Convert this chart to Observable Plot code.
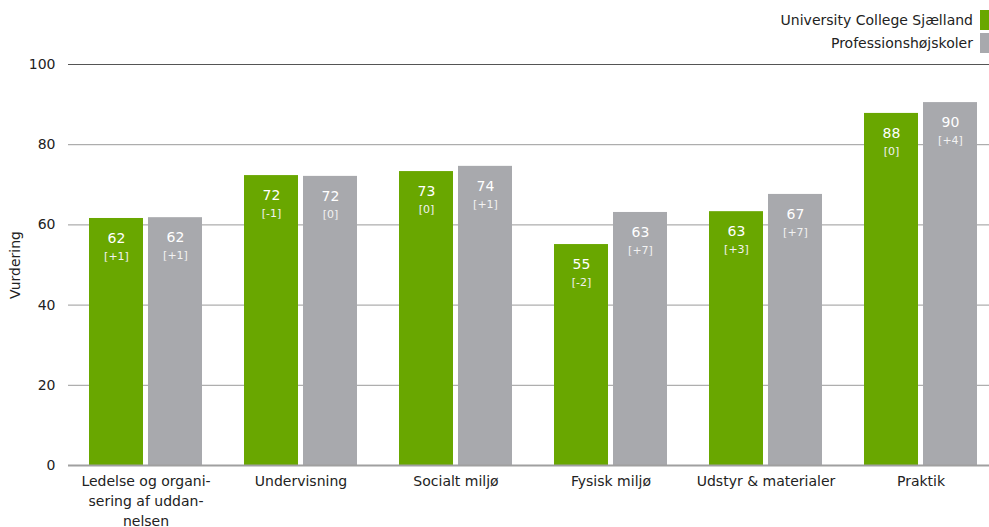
<!DOCTYPE html>
<html>
<head>
<meta charset="utf-8">
<script src="https://cdn.jsdelivr.net/npm/d3@7"></script>
<script src="https://cdn.jsdelivr.net/npm/@observablehq/plot@0.6"></script>
<style>
  html, body { margin: 0; padding: 0; background: #fff; }
  body { width: 989px; height: 527px; overflow: hidden; font-family: "DejaVu Sans", sans-serif; }
  #legend { position: relative; height: 56px; width: 989px; }
  .lg-row { position: absolute; right: 0; display: flex; align-items: center; font-size: 14px; color: #222; }
  .lg-sw { width: 9px; height: 20px; margin-left: 7px; }
  svg { display: block; }
</style>
</head>
<body>
<div id="legend"></div>
<div id="chart"></div>
<script>
const categories = ["Ledelse og organisering af uddannelsen", "Undervisning", "Socialt miljø", "Fysisk miljø", "Udstyr & materialer", "Praktik"];
const tickLabels = ["Ledelse og organi-\nsering af uddan-\nnelsen", "Undervisning", "Socialt miljø", "Fysisk miljø", "Udstyr & materialer", "Praktik"];
const series = ["University College Sjælland", "Professionshøjskoler"];
const seriesColors = ["#69a700", "#a8a9ad"];
const ucsValues = [61.6, 72.3, 73.3, 55.1, 63.3, 87.8];
const phValues = [61.8, 72.1, 74.6, 63.1, 67.6, 90.5];
const ucsLabels = ["62", "72", "73", "55", "63", "88"];
const phLabels = ["62", "72", "74", "63", "67", "90"];
const ucsChanges = ["[+1]", "[-1]", "[0]", "[-2]", "[+3]", "[0]"];
const phChanges = ["[+1]", "[0]", "[+1]", "[+7]", "[+7]", "[+4]"];
const yTicks = [0, 20, 40, 60, 80, 100];

const data = [];
categories.forEach((c, i) => {
  data.push({cat: c, series: series[0], value: ucsValues[i], label: ucsLabels[i], change: ucsChanges[i]});
  data.push({cat: c, series: series[1], value: phValues[i], label: phLabels[i], change: phChanges[i]});
});
const tickMap = new Map(categories.map((c, i) => [c, tickLabels[i]]));

// legend
const legend = document.getElementById("legend");
series.forEach((s, i) => {
  const row = document.createElement("div");
  row.className = "lg-row";
  row.style.top = (10 + i * 23) + "px";
  row.style.height = "20px";
  const t = document.createElement("span");
  t.textContent = s;
  const sw = document.createElement("span");
  sw.className = "lg-sw";
  sw.style.background = seriesColors[i];
  row.appendChild(t);
  row.appendChild(sw);
  legend.appendChild(row);
});

const chart = Plot.plot({
  width: 989,
  height: 471,
  marginTop: 8,
  marginBottom: 62,
  marginLeft: 68,
  marginRight: 0,
  style: {fontFamily: "DejaVu Sans, sans-serif", fontSize: "14px", color: "#222", background: "#fff"},
  fx: {domain: categories, range: [68, 998], padding: 0, label: null},
  x: {domain: series, paddingInner: 0.085, paddingOuter: 0.356, axis: null},
  y: {domain: [0, 100]},
  color: {domain: series, range: seriesColors},
  marks: [
    Plot.ruleY([20, 40, 60, 80], {stroke: "#9a9a9a", strokeWidth: 1}),
    Plot.ruleY([100], {stroke: "#555", strokeWidth: 1.2}),
    Plot.barY(data, {fx: "cat", x: "series", y: "value", fill: "series"}),
    Plot.ruleY([0], {stroke: "#a0a0a0", strokeWidth: 2}),
    Plot.text(data, {fx: "cat", x: "series", y: "value", text: "label", dy: 20, fill: "#fff", fontSize: 14}),
    Plot.text(data, {fx: "cat", x: "series", y: "value", text: "change", dy: 38, fill: "#f2f2f2", fontSize: 11}),
    Plot.axisY({ticks: yTicks, tickSize: 0, tickPadding: 13, fontSize: 14, label: "Vurdering", labelAnchor: "center", labelArrow: "none", labelOffset: 58}),
    Plot.axisFx({anchor: "bottom", tickSize: 0, tickPadding: 7, fontSize: 14, lineHeight: 1.4, tickFormat: d => tickMap.get(d), label: null})
  ]
});
document.getElementById("chart").appendChild(chart);
</script>
</body>
</html>
